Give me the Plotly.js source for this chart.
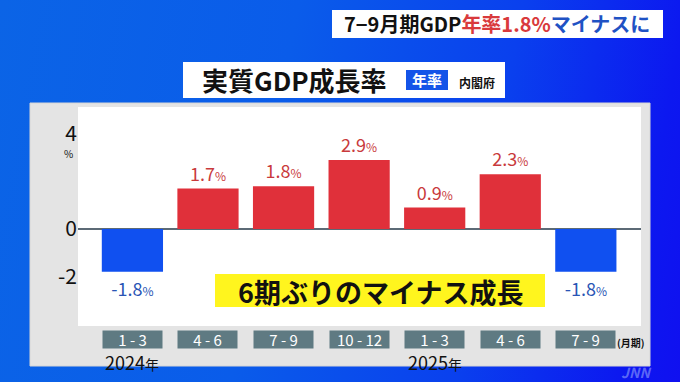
<!DOCTYPE html>
<html>
<head>
<meta charset="utf-8">
<script src="https://cdn.plot.ly/plotly-3.0.1.min.js"></script>
<style>
html,body{margin:0;padding:0;}
#wrap{width:680px;height:382px;background:linear-gradient(100deg,#0b64e6 0%,#0a5cea 40%,#0a40ee 70%,#0c18f0 92%,#1010f0 100%);}
#chart{width:680px;height:382px;}
</style>
</head>
<body>
<div id="wrap"><div id="chart"></div></div>
<script>
// ---- data ----
const categories = ["2024年1-3","2024年4-6","2024年7-9","2024年10-12","2025年1-3","2025年4-6","2025年7-9"];
const periodLabels = ["1-3","4-6","7-9","10-12","1-3","4-6","7-9"];
const yearLabels = ["2024年","","","","2025年","",""];
const growthRates = [-1.8, 1.7, 1.8, 2.9, 0.9, 2.3, -1.8];
const yTickVals = [-2, 0, 4];
const yTickText = ["-2", "0", "4"];

// ---- layout helpers (pixel -> paper) ----
const L = 78, R = 641, T = 107, B = 326;
const W = 680, H = 382;
const px = x => (x - L) / (R - L);
const py = y => (B - y) / (B - T);

const FONT = '"Noto Sans CJK JP", "Noto Sans", sans-serif';
const redBar = '#e0303a', blueBar = '#1050f0';
const redTxt = '#c93a3c', blueTxt = '#2a55b5';

const trace = {
  type: 'bar',
  x: categories,
  y: growthRates,
  marker: {color: growthRates.map(v => v >= 0 ? redBar : blueBar), line: {width: 0}},
  texttemplate: '%{y:.1f}<span style="font-size:12px">%</span>',
  textposition: 'outside',
  textfont: {family: FONT, size: 18, color: growthRates.map(v => v >= 0 ? redTxt : blueTxt)},
  cliponaxis: false,
  hoverinfo: 'skip'
};

const shapes = [
  {type:'rect', xref:'paper', yref:'paper', x0:px(30), x1:px(650), y0:py(366), y1:py(103), fillcolor:'#e4e4e4', line:{width:1, color:'#d6d6d6'}, layer:'below'},
  {type:'rect', xref:'paper', yref:'paper', x0:0, x1:1, y0:0, y1:1, fillcolor:'#ffffff', line:{width:0}, layer:'below'},
  {type:'rect', xref:'paper', yref:'paper', x0:px(183), x1:px(505), y0:py(98), y1:py(62), fillcolor:'#ffffff', line:{width:0}, layer:'above'},
  {type:'rect', xref:'paper', yref:'paper', x0:px(406), x1:px(448), y0:py(90), y1:py(70), fillcolor:'#1454e8', line:{width:0}, layer:'above'},
  {type:'rect', xref:'paper', yref:'paper', x0:px(332), x1:px(663), y0:py(38), y1:py(10), fillcolor:'#ffffff', line:{width:0}, layer:'above'},
  {type:'rect', xref:'paper', yref:'paper', x0:px(215), x1:px(545), y0:py(307), y1:py(274), fillcolor:'#fff51e', line:{width:0}, layer:'above'}
];

const annotations = [
  {xref:'paper', yref:'paper', x:px(497), y:py(24), xanchor:'center', yanchor:'middle', showarrow:false,
   text:'<span style="color:#111111">7−9月期GDP</span><span style="color:#d93a3c">年率1.8%</span><span style="color:#1f52c4">マイナスに</span>',
   font:{family:FONT, size:20, weight:'bold'}},
  {xref:'paper', yref:'paper', x:px(200), y:py(80), xanchor:'left', yanchor:'middle', showarrow:false,
   text:'実質GDP成長率', font:{family:FONT, size:26, weight:'bold', color:'#111111'}},
  {xref:'paper', yref:'paper', x:px(427), y:py(80), xanchor:'center', yanchor:'middle', showarrow:false,
   text:'年率', font:{family:FONT, size:15, weight:'bold', color:'#ffffff'}},
  {xref:'paper', yref:'paper', x:px(457), y:py(82), xanchor:'left', yanchor:'middle', showarrow:false,
   text:'内閣府', font:{family:FONT, size:12, weight:'bold', color:'#111111'}},
  {xref:'paper', yref:'paper', x:px(380), y:py(291), xanchor:'center', yanchor:'middle', showarrow:false,
   text:'6期ぶりのマイナス成長', font:{family:FONT, size:27, weight:'bold', color:'#111111'}},
  {xref:'paper', yref:'paper', x:px(68), y:py(153), xanchor:'center', yanchor:'middle', showarrow:false,
   text:'%', font:{family:FONT, size:10, color:'#111111'}},
  {xref:'paper', yref:'paper', x:px(631), y:py(342), xanchor:'center', yanchor:'middle', showarrow:false,
   text:'(月期)', font:{family:FONT, size:10, weight:'bold', color:'#111111'}},
  {xref:'paper', yref:'paper', x:px(636), y:py(372), xanchor:'center', yanchor:'middle', showarrow:false,
   text:'<i>JNN</i>', font:{family:FONT, size:14, weight:'bold', color:'rgba(190,205,255,0.45)'}}
];

categories.forEach((c, i) => {
  annotations.push({xref:'x', yref:'paper', x:c, y:py(339.5), xanchor:'center', yanchor:'middle', showarrow:false,
    text:periodLabels[i].replace('-', ' - '), width:59, height:17, bgcolor:'#5f7a82', borderpad:0,
    font:{family:FONT, size:15, color:'#ffffff'}});
  if (yearLabels[i]) {
    annotations.push({xref:'x', yref:'paper', x:c, y:py(362), xanchor:'center', yanchor:'middle', showarrow:false,
      text:yearLabels[i].replace('年','<span style="font-size:14px">年</span>'),
      font:{family:FONT, size:18, color:'#111111'}});
  }
});

const layout = {
  width: W, height: H,
  margin: {l: L, r: W - R, t: T, b: H - B, pad: 0},
  paper_bgcolor: 'rgba(0,0,0,0)',
  plot_bgcolor: 'rgba(0,0,0,0)',
  showlegend: false,
  bargap: 0.19,
  xaxis: {type:'category', range:[-0.72, 6.73], showticklabels:false, showgrid:false, zeroline:false, showline:false, ticks:'', fixedrange:true},
  yaxis: {range:[-4.08, 5.13], tickvals:yTickVals, ticktext:yTickText, showgrid:false,
          zeroline:true, zerolinecolor:'#5c6a76', zerolinewidth:2, showline:false, ticks:'',
          tickfont:{family:FONT, size:21, color:'#111111'}, fixedrange:true},
  shapes: shapes,
  annotations: annotations,
  font: {family: FONT}
};

Plotly.newPlot('chart', [trace], layout, {displayModeBar:false, staticPlot:true});
</script>
</body>
</html>
